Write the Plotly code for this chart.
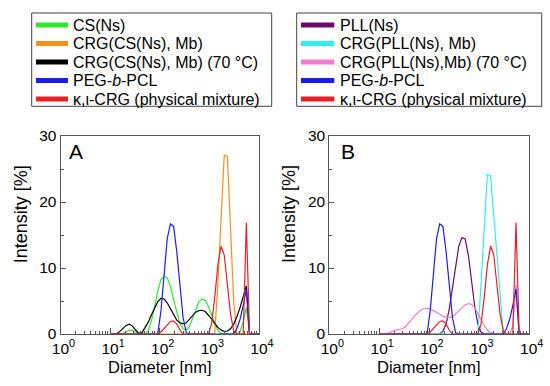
import plotly.graph_objects as go

# ---------------- data (DLS intensity distributions) ----------------
SIZES_NM = [10.1, 11.7, 13.54, 15.69, 18.17, 21.04, 24.36, 28.21, 32.67, 37.84,
            43.82, 50.75, 58.77, 68.06, 78.82, 91.28, 105.7, 122.4, 141.8, 164.2,
            190.1, 220.2, 255.0, 295.3, 342.0, 396.1, 458.7, 531.2, 615.1, 712.4,
            825.0, 955.4, 1106, 1281, 1484, 1718, 1990, 2305, 2669, 3091,
            3580, 4145, 4801, 5560, 6439, 7456, 8635, 10000]

CS_NS = [0, 0, 0, 0, 0.1, 0.35, 0.55, 0.55, 0.35, 0.05,
         0, 0, 0.5, 2.0, 4.2, 6.5, 8.2, 8.8, 8.5, 7.2,
         5.2, 3.2, 1.6, 0.8, 0.6, 1.1, 2.3, 3.8, 4.9, 5.3,
         5.1, 4.2, 2.9, 1.5, 0.5, 0.05, 0, 0, 0, 0,
         0, 0.3, 1.8, 4.0, 0, 0, 0, 0]

CRG_CS_MB = [0, 0, 0, 0, 0, 0, 0, 0, 0, 0,
             0, 0, 0, 0, 0, 0, 0, 0, 0, 0,
             0, 0, 0, 0, 0, 0, 0, 0, 0, 0,
             0, 0, 0, 0, 7.6, 17.5, 27.1, 26.9, 15.5, 5.0,
             0, 0, 0, 0, 0, 0, 0, 0]

CRG_CS_MB_70 = [0, 0, 0, 0.4, 0.9, 1.3, 1.5, 1.2, 0.6, 0.1,
                0.2, 0.9, 1.8, 2.9, 4.0, 4.9, 5.4, 5.3, 4.7, 3.8,
                2.9, 2.1, 1.7, 1.55, 1.7, 2.2, 2.8, 3.3, 3.55, 3.6,
                3.4, 2.9, 2.3, 1.6, 1.0, 0.6, 0.4, 0.45, 0.8, 1.5,
                2.6, 4.0, 5.6, 7.3, 0, 0, 0, 0]

PEG_PCL = [0, 0, 0, 0, 0, 0, 0, 0, 0, 0,
           0, 0, 0, 0, 0, 0, 3.5, 9.5, 14.5, 16.7,
           16.3, 12.5, 7.0, 2.5, 0.2, 0, 0, 0, 0, 0,
           0, 0, 0, 0, 0, 0, 0, 0, 0, 0,
           0.8, 2.2, 4.3, 6.8, 0, 0, 0, 0]

KI_CRG = [0, 0, 0, 0, 0, 0, 0, 0, 0, 0,
          0, 0, 0, 0, 0, 0, 0.3, 0.8, 1.4, 1.9,
          2.0, 1.5, 0.6, 0, 0, 0, 0, 0, 0, 0,
          0, 0, 1.5, 5.5, 10.5, 13.3, 12.0, 7.5, 3.0, 0.5,
          0, 0, 0, 16.9, 0, 0, 0, 0]

PLL_NS = [0, 0, 0, 0, 0, 0, 0, 0, 0, 0,
          0, 0, 0, 0, 0, 0, 0, 0, 0, 0,
          0.4, 1.5, 3.8, 7.0, 10.5, 13.3, 14.6, 14.4, 12.0, 8.0,
          4.2, 1.5, 0.3, 0, 0, 0, 0, 0, 0, 0,
          0, 0, 0, 0, 0, 0, 0, 0]

CRG_PLL_MB = [0, 0, 0, 0, 0, 0, 0, 0, 0, 0,
              0, 0, 0, 0, 0, 0, 0, 0, 0, 0,
              0, 0, 0, 0, 0, 0, 0, 0, 0, 0,
              0, 0, 7.6, 16.6, 24.2, 24.0, 18.0, 12.0, 6.0, 0,
              0, 0, 0, 0, 0, 0, 0, 0]

CRG_PLL_MB_70 = [0, 0, 0, 0.2, 0.45, 0.6, 0.65, 0.75, 1.0, 1.5,
                 2.1, 2.7, 3.2, 3.6, 3.85, 3.9, 3.8, 3.6, 3.3, 3.0,
                 2.7, 2.55, 2.5, 2.6, 3.0, 3.5, 4.0, 4.4, 4.6, 4.5,
                 4.0, 3.2, 2.2, 1.3, 0.6, 0.2, 0.05, 0, 0, 0,
                 0, 0, 1.2, 7.4, 0, 0, 0, 0]

X_TICKS = [1, 10, 100, 1000, 10000]
X_TICK_TEXT = ["10<sup>0</sup>", "10<sup>1</sup>", "10<sup>2</sup>", "10<sup>3</sup>", "10<sup>4</sup>"]
Y_TICKS = [0, 10, 20, 30]

NAMES_A = ["CS(Ns)", "CRG(CS(Ns), Mb)", "CRG(CS(Ns), Mb) (70 °C)", "PEG-<i>b</i>-PCL",
           "κ,ι-CRG (physical mixture)"]
NAMES_B = ["PLL(Ns)", "CRG(PLL(Ns), Mb)", "CRG(PLL(Ns),Mb) (70 °C)", "PEG-<i>b</i>-PCL",
           "κ,ι-CRG (physical mixture)"]

COL_GREEN = "#2ee82e"
COL_ORANGE = "#f7901e"
COL_BLACK = "#000000"
COL_BLUE = "#1c1cf0"
COL_RED = "#ea1f25"
COL_PURPLE = "#6a0a6a"
COL_CYAN = "#33eeee"
COL_PINK = "#f07ccc"

SERIES_A = [(CS_NS, COL_GREEN), (CRG_CS_MB, COL_ORANGE), (CRG_CS_MB_70, COL_BLACK),
            (PEG_PCL, COL_BLUE), (KI_CRG, COL_RED)]
SERIES_B = [(PLL_NS, COL_PURPLE), (CRG_PLL_MB, COL_CYAN), (CRG_PLL_MB_70, COL_PINK),
            (PEG_PCL, COL_BLUE), (KI_CRG, COL_RED)]

# ---------------- figure ----------------
W, H = 550, 386
FONT = "Liberation Sans, Arial, sans-serif"
AX = "#555555"


def fx(p):
    return p / W


def fy(p):
    return 1 - p / H


fig = go.Figure()
for name, (vals, col) in zip(NAMES_A, SERIES_A):
    fig.add_trace(go.Scatter(x=SIZES_NM, y=vals, mode="lines", name=name, showlegend=False,
                             line=dict(color=col, width=1.2), xaxis="x", yaxis="y"))
for name, (vals, col) in zip(NAMES_B, SERIES_B):
    fig.add_trace(go.Scatter(x=SIZES_NM, y=vals, mode="lines", name=name, showlegend=False,
                             line=dict(color=col, width=1.2), xaxis="x2", yaxis="y2"))

minor_x = [m * 10 ** e for e in range(4) for m in range(2, 10)]


def xax(domain, anchor):
    return dict(domain=domain, anchor=anchor, type="log", range=[0, 4], automargin=False,
                tickmode="array", tickvals=X_TICKS, ticktext=X_TICK_TEXT,
                ticks="inside", ticklen=6, tickwidth=1, tickcolor=AX, ticklabelshift=3,
                showline=True, linecolor=AX, linewidth=1, mirror=True,
                showgrid=False, zeroline=False,
                minor=dict(ticks="inside", ticklen=3, tickwidth=1, tickcolor=AX,
                           tickmode="array", tickvals=minor_x, showgrid=False),
                tickfont=dict(family=FONT, size=15.5, color="black"))


def yax(domain, anchor):
    return dict(domain=domain, anchor=anchor, range=[0, 30], automargin=False,
                tickmode="array", tickvals=Y_TICKS,
                ticks="inside", ticklen=5, tickwidth=1, tickcolor=AX,
                showline=True, linecolor=AX, linewidth=1, mirror=True,
                showgrid=False, zeroline=False,
                minor=dict(ticks="inside", ticklen=3, tickwidth=1, tickcolor=AX,
                           tickmode="array", tickvals=[5, 15, 25], showgrid=False),
                tickfont=dict(family=FONT, size=15.5, color="black"))


yd = [fy(334), fy(136)]
fig.update_layout(
    width=W, height=H, margin=dict(l=0, r=0, t=0, b=0, pad=0, autoexpand=False),
    paper_bgcolor="white", plot_bgcolor="white", showlegend=False,
    font=dict(family=FONT, color="black"),
    xaxis=xax([fx(60.5), fx(259)], "y"),
    yaxis=yax(yd, "x"),
    xaxis2=xax([fx(329.3), fx(528.7)], "y2"),
    yaxis2=yax(yd, "x2"),
)

ann = []
shapes = []
# axis titles and panel letters
for cx, ycx, letter, lx in [(159.5, 20.7, "A", 76.3), (429, 288.5, "B", 348.3)]:
    ann.append(dict(text="Diameter [nm]", x=fx(cx), y=fy(366.5), xref="paper", yref="paper",
                    showarrow=False, xanchor="center", yanchor="middle",
                    font=dict(family=FONT, size=16.5, color="black")))
    ann.append(dict(text="Intensity [%]", x=fx(ycx), y=fy(214.5), xref="paper", yref="paper",
                    showarrow=False, xanchor="center", yanchor="middle", textangle=-90,
                    font=dict(family=FONT, size=18, color="black")))
    ann.append(dict(text=letter, x=fx(lx), y=fy(151), xref="paper", yref="paper",
                    showarrow=False, xanchor="center", yanchor="middle",
                    font=dict(family=FONT, size=21, color="black")))

# legends (boxes drawn as shapes + text annotations)
for names, series, bx0, bx1, lx0, lx1, tx in [
        (NAMES_A, SERIES_A, 31.7, 271.7, 36, 68, 70.7),
        (NAMES_B, SERIES_B, 296.7, 541.7, 301, 334.3, 338.3)]:
    shapes.append(dict(type="rect", xref="paper", yref="paper",
                       x0=fx(bx0), x1=fx(bx1), y0=fy(106.3), y1=fy(13),
                       line=dict(color="#444444", width=1), fillcolor="rgba(0,0,0,0)"))
    for i, (name, (vals, col)) in enumerate(zip(names, series)):
        yy = 25 + i * 18.5
        shapes.append(dict(type="line", xref="paper", yref="paper",
                           x0=fx(lx0), x1=fx(lx1), y0=fy(yy), y1=fy(yy),
                           line=dict(color=col, width=5)))
        ann.append(dict(text=name, x=fx(tx), y=fy(yy), xref="paper", yref="paper",
                        showarrow=False, xanchor="left", yanchor="middle",
                        font=dict(family=FONT, size=16, color="black")))

fig.update_layout(annotations=ann, shapes=shapes)
fig.write_html("out.html", config={"displayModeBar": False},
               post_script="document.body.style.margin='0';document.body.style.overflow='hidden';")
